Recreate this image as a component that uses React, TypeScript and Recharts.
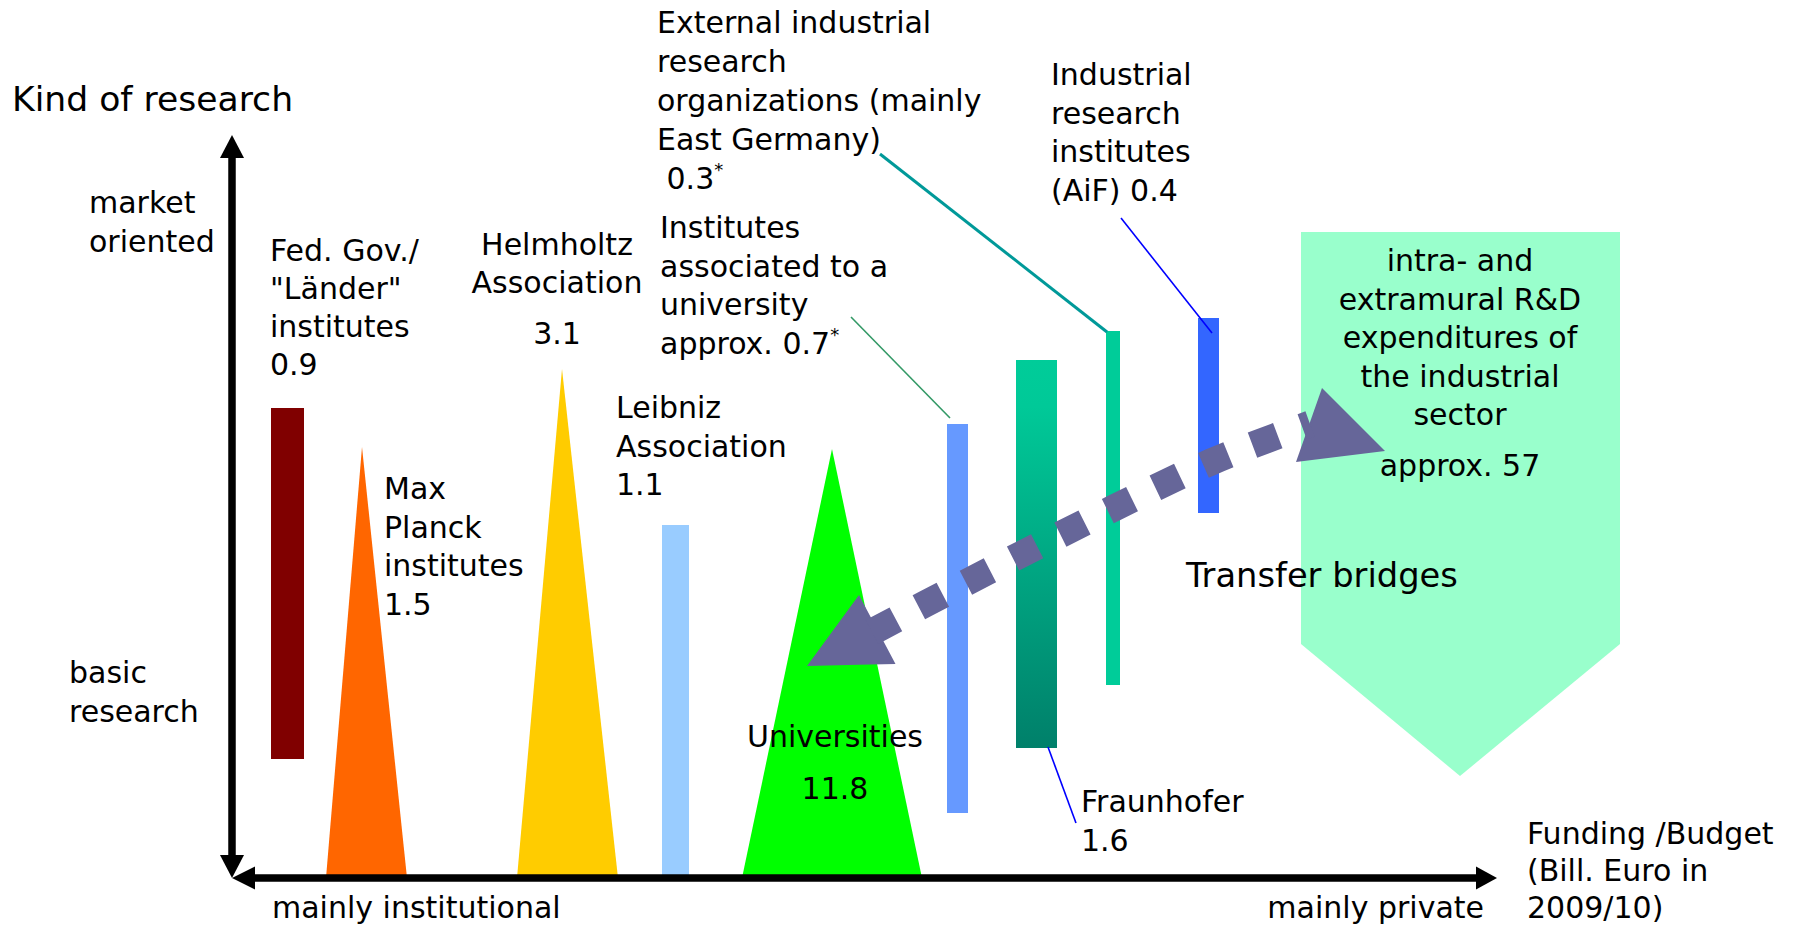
import React from 'react';
import { ComposedChart, XAxis, YAxis, Area, Line, Scatter } from 'recharts';

// Diagram coordinates: x = position along "Funding /Budget" axis (0 = axes corner),
// y = kind of research (0 = basic research axis base, up = market oriented)
const X_DOMAIN: [number, number] = [-232, 1562];
const Y_DOMAIN: [number, number] = [-50, 878];

// Institutions drawn as bars (range areas: r = [bottom, top])
const fedGov = [{ x: 39, r: [119, 470] }, { x: 72, r: [119, 470] }];
const leibniz = [{ x: 430, r: [0, 353] }, { x: 457, r: [0, 353] }];
const instUniv = [{ x: 715, r: [65, 454] }, { x: 736, r: [65, 454] }];
const fraunhofer = [{ x: 784, r: [130, 518] }, { x: 825, r: [130, 518] }];
const externalInd = [{ x: 874, r: [193, 547] }, { x: 888, r: [193, 547] }];
const aif = [{ x: 966, r: [365, 560] }, { x: 987, r: [365, 560] }];

// Institutions drawn as triangles
const maxPlanck = [{ x: 94, r: [0, 0] }, { x: 130, r: [0, 431] }, { x: 175, r: [0, 0] }];
const helmholtz = [{ x: 285, r: [0, 0] }, { x: 330, r: [0, 509] }, { x: 386, r: [0, 0] }];
const universities = [{ x: 510, r: [0, 0] }, { x: 600, r: [0, 429] }, { x: 690, r: [0, 0] }];

// Industrial sector (pentagon arrow)
const industry = [{ x: 1069, r: [234, 646] }, { x: 1228, r: [102, 646] }, { x: 1388, r: [234, 646] }];

// Transfer bridges (dashed double arrow)
const bridgePath = [
  { x: 640, y: 246 }, { x: 693, y: 274 }, { x: 788, y: 323 },
  { x: 882, y: 370 }, { x: 979, y: 416 }, { x: 1078, y: 454 },
];
const bridgeHeadLeft = [{ x: 575, r: [212, 212] }, { x: 627, r: [213.2, 283] }, { x: 663.5, r: [214, 214] }];
const bridgeHeadRight = [{ x: 1064, r: [416, 416] }, { x: 1090, r: [419.2, 490] }, { x: 1153, r: [427, 427] }];

// Axes (arrows)
const yAxisLine = [{ x: 0, y: 18 }, { x: 0, y: 724 }];
const xAxisLine = [{ x: 18, y: 0 }, { x: 1248, y: 0 }];
const yHeadTop = [{ x: -12, r: [720, 720] }, { x: 0, r: [720, 743] }, { x: 12, r: [720, 720] }];
const yHeadBottom = [{ x: -12, r: [23, 23] }, { x: 0, r: [0, 23] }, { x: 12, r: [23, 23] }];
const xHeadLeft = [{ x: 0, r: [0, 0] }, { x: 23, r: [-11.5, 11.5] }];
const xHeadRight = [{ x: 1244, r: [-11.5, 11.5] }, { x: 1265, r: [0, 0] }];

// Leader lines
const leaderExternal = [{ x: 648, y: 724 }, { x: 875, y: 546 }];
const leaderAif = [{ x: 889, y: 660 }, { x: 980, y: 545 }];
const leaderInstUniv = [{ x: 619, y: 561 }, { x: 718, y: 460 }];
const leaderFraunhofer = [{ x: 816, y: 131 }, { x: 844, y: 55 }];

// Text labels (x, y = first baseline)
const axisLabels = [
  { x: -220, y: 767, lines: ['Kind of research'], size: 34.6 },
  { x: -143, y: 665, lines: ['market', 'oriented'] },
  { x: -163, y: 195, lines: ['basic', 'research'] },
  { x: 40, y: -40, lines: ['mainly institutional'] },
  { x: 1252, y: -40, lines: ['mainly private'], anchor: 'end' },
  { x: 1295, y: 34, lines: ['Funding /Budget', '(Bill. Euro in', '2009/10)'], lh: 37 },
  { x: 954, y: 291, lines: ['Transfer bridges'], size: 33.7 },
];
const institutionLabels = [
  { x: 38, y: 617, lines: ['Fed. Gov./', '"Länder"', 'institutes', '0.9'], lh: 38 },
  { x: 325, y: 623, lines: ['Helmholtz', 'Association'], anchor: 'middle', lh: 38 },
  { x: 325, y: 534, lines: ['3.1'], anchor: 'middle' },
  { x: 152, y: 379, lines: ['Max', 'Planck', 'institutes', '1.5'] },
  { x: 384, y: 460, lines: ['Leibniz', 'Association', '1.1'] },
  { x: 425, y: 845, lines: ['External industrial', 'research', 'organizations (mainly', 'East Germany)', ' 0.3*'], lh: 39 },
  { x: 428, y: 640, lines: ['Institutes', 'associated to a', 'university', 'approx. 0.7*'] },
  { x: 819, y: 793, lines: ['Industrial', 'research', 'institutes', '(AiF) 0.4'] },
  { x: 1228, y: 607, lines: ['intra- and', 'extramural R&D', 'expenditures of', 'the industrial', 'sector'], anchor: 'middle' },
  { x: 1228, y: 402, lines: ['approx. 57'], anchor: 'middle' },
  { x: 603, y: 131, lines: ['Universities'], anchor: 'middle' },
  { x: 603, y: 79, lines: ['11.8'], anchor: 'middle' },
  { x: 849, y: 66, lines: ['Fraunhofer', '1.6'] },
];

const FONT = "'DejaVu Sans', sans-serif";

const TextBlock = (props: any) => {
  const { cx, cy, payload } = props;
  const size = payload.size ?? 30;
  const lh = payload.lh ?? 38.5;
  const anchor = payload.anchor ?? 'start';
  return (
    <text
      fontSize={size}
      fontFamily={FONT}
      textAnchor={anchor}
      fill="#000"
      style={{ whiteSpace: 'pre' }}
    >
      {payload.lines.map((ln: string, i: number) => {
        const star = ln.endsWith('*');
        const main = star ? ln.slice(0, -1) : ln;
        return (
          <tspan key={i} x={cx} y={cy + i * lh}>
            {main}
            {star && (
              <tspan fontSize={size * 0.6} dy={-size * 0.42}>*</tspan>
            )}
          </tspan>
        );
      })}
    </text>
  );
};

const shape = (data: any[], fill: string, key: string) => (
  <Area
    key={key}
    data={data}
    dataKey="r"
    type="linear"
    stroke="none"
    fill={fill}
    fillOpacity={1}
    dot={false}
    activeDot={false}
    isAnimationActive={false}
  />
);

const seg = (data: any[], stroke: string, width: number, key: string, extra: any = {}) => (
  <Line
    key={key}
    data={data}
    dataKey="y"
    type="linear"
    stroke={stroke}
    strokeWidth={width}
    dot={false}
    activeDot={false}
    isAnimationActive={false}
    {...extra}
  />
);

export default function App() {
  return (
    <div style={{ position: 'absolute', left: 0, top: 0, width: 1794, height: 928, background: '#fff' }}>
      <ComposedChart width={1794} height={928} margin={{ top: 0, right: 0, bottom: 0, left: 0 }}>
        <defs>
          <linearGradient id="fraunGrad" x1="0" y1="0" x2="0" y2="1">
            <stop offset="0" stopColor="#00CC99" />
            <stop offset="0.12" stopColor="#00C998" />
            <stop offset="1" stopColor="#00806A" />
          </linearGradient>
        </defs>
        <XAxis type="number" dataKey="x" domain={X_DOMAIN} allowDataOverflow hide />
        <YAxis type="number" dataKey="y" domain={Y_DOMAIN} allowDataOverflow hide />

        {shape(industry, '#99FFCC', 'industry')}
        {shape(fedGov, '#800000', 'fed')}
        {shape(maxPlanck, '#FF6600', 'mpi')}
        {shape(helmholtz, '#FFCC00', 'hgf')}
        {shape(leibniz, '#99CCFF', 'wgl')}
        {shape(universities, '#00FF00', 'uni')}
        {shape(instUniv, '#6699FF', 'inst')}
        {shape(fraunhofer, 'url(#fraunGrad)', 'fhg')}
        {shape(externalInd, '#00CC99', 'ext')}
        {shape(aif, '#3366FF', 'aif')}

        {shape(yHeadTop, '#000', 'yht')}
        {shape(yHeadBottom, '#000', 'yhb')}
        {shape(xHeadLeft, '#000', 'xhl')}
        {shape(xHeadRight, '#000', 'xhr')}
        {shape(bridgeHeadLeft, '#666699', 'bhl')}
        {shape(bridgeHeadRight, '#666699', 'bhr')}

        {seg(yAxisLine, '#000', 7.5, 'yax')}
        {seg(xAxisLine, '#000', 7.5, 'xax')}
        {seg(leaderExternal, '#009999', 3, 'lext')}
        {seg(leaderAif, '#0000FF', 1.6, 'laif')}
        {seg(leaderInstUniv, '#339966', 1.6, 'linst')}
        {seg(leaderFraunhofer, '#0000FF', 1.6, 'lfhg')}
        {seg(bridgePath, '#666699', 27, 'bridge', { type: 'monotone', strokeDasharray: '27 26' })}

        <Scatter data={axisLabels} shape={TextBlock} isAnimationActive={false} />
        <Scatter data={institutionLabels} shape={TextBlock} isAnimationActive={false} />
      </ComposedChart>
    </div>
  );
}
